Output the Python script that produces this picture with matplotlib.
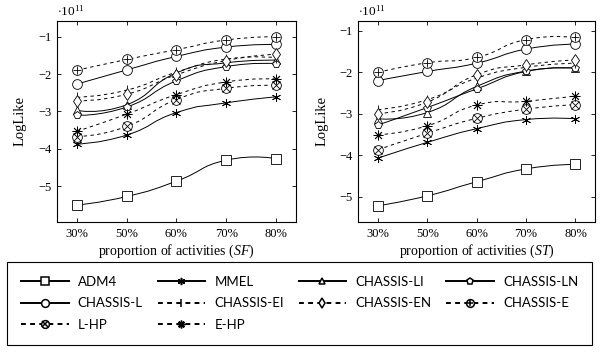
import matplotlib
matplotlib.use("Agg")
import matplotlib.pyplot as plt
from matplotlib.path import Path
from matplotlib.patches import PathPatch
from matplotlib.lines import Line2D

plt.rcParams['font.family'] = ['Liberation Serif', 'DejaVu Serif']
plt.rcParams['mathtext.fontset'] = 'custom'
plt.rcParams['mathtext.rm'] = 'Liberation Serif'
plt.rcParams['mathtext.it'] = 'Liberation Serif:italic'

# x categories
props = ['30%', '50%', '60%', '70%', '80%']

# LogLike values (x 1e11), SF dataset
adm4_sf = [-5.50, -5.27, -4.86, -4.30, -4.26]
mmel_sf = [-3.87, -3.63, -3.03, -2.77, -2.61]
li_sf = [-2.97, -2.82, -1.97, -1.70, -1.63]
ln_sf = [-3.10, -2.88, -2.18, -1.80, -1.72]
l_sf = [-2.27, -1.89, -1.53, -1.28, -1.21]
ei_sf = [-2.62, -2.43, -1.95, -1.60, -1.56]
en_sf = [-2.72, -2.54, -2.02, -1.64, -1.47]
e_sf = [-1.90, -1.61, -1.35, -1.09, -1.00]
lhp_sf = [-3.67, -3.40, -2.68, -2.38, -2.30]
ehp_sf = [-3.53, -3.07, -2.55, -2.21, -2.13]

# ST dataset
adm4_st = [-5.22, -4.98, -4.64, -4.33, -4.22]
mmel_st = [-4.07, -3.69, -3.36, -3.14, -3.12]
li_st = [-3.12, -2.97, -2.34, -1.97, -1.90]
ln_st = [-3.27, -2.85, -2.40, -1.98, -1.90]
l_st = [-2.20, -1.98, -1.78, -1.44, -1.32]
ei_st = [-2.90, -2.66, -2.14, -1.88, -1.78]
en_st = [-3.00, -2.72, -2.06, -1.82, -1.70]
e_st = [-2.00, -1.77, -1.64, -1.21, -1.16]
lhp_st = [-3.87, -3.47, -3.11, -2.89, -2.78]
ehp_st = [-3.51, -3.29, -2.79, -2.70, -2.57]

names = ['ADM4', 'MMEL', 'CHASSIS-LI', 'CHASSIS-LN', 'CHASSIS-L',
         'CHASSIS-EI', 'CHASSIS-EN', 'CHASSIS-E', 'L-HP', 'E-HP']
sf_data = [adm4_sf, mmel_sf, li_sf, ln_sf, l_sf, ei_sf, en_sf, e_sf, lhp_sf, ehp_sf]
st_data = [adm4_st, mmel_st, li_st, ln_st, l_st, ei_st, en_st, e_st, lhp_st, ehp_st]

# style per series: (linestyle, marker, size, overlay marker)
styles = [
    ('-', 's', 7, None),
    ('-', (6, 2, 0), 6.5, None),
    ('-', '^', 5.5, None),
    ('-', 'p', 6, None),
    ('-', 'o', 7, None),
    ('--', '|', 7.5, None),
    ('--', 'd', 6, None),
    ('--', 'o', 7, '+'),
    ('--', 'o', 7, 'x'),
    ('--', (8, 2, 0), 7, None),
]


def smooth_path(xs, ys, t=0.2775):
    # tikz-like smooth curve through the points
    pts = list(zip(xs, ys))
    verts = [pts[0]]
    codes = [Path.MOVETO]
    n = len(pts)
    for i in range(n - 1):
        p0 = pts[i]
        p1 = pts[i + 1]
        if i == 0:
            c1 = p0
        else:
            pm = pts[i - 1]
            c1 = (p0[0] + t * (p1[0] - pm[0]), p0[1] + t * (p1[1] - pm[1]))
        if i + 2 < n:
            p2 = pts[i + 2]
            c2 = (p1[0] - t * (p2[0] - p0[0]), p1[1] - t * (p2[1] - p0[1]))
        else:
            c2 = p1
        verts += [c1, c2, p1]
        codes += [Path.CURVE4] * 3
    return Path(verts, codes)


def draw(ax, data, xlabel_tag, ylim):
    xs = list(range(len(props)))
    for vals, (ls, mk, ms, over) in zip(data, styles):
        patch = PathPatch(smooth_path(xs, vals), facecolor='none', edgecolor='black',
                          lw=0.7, linestyle=(0, (3.5, 3.5)) if ls == '--' else '-', zorder=2)
        ax.add_patch(patch)
        ax.plot(xs, vals, ls='none', marker=mk, ms=ms, mfc='white', mec='black',
                mew=0.6, zorder=3)
        if over:
            ax.plot(xs, vals, ls='none', marker=over, ms=ms * 0.75, mec='black',
                    mew=0.6, zorder=4)
    ax.set_xticks(xs)
    ax.set_xticklabels(props)
    ax.set_xlim(-0.4, 4.4)
    ax.set_ylim(*ylim)
    ax.set_yticks([-5, -4, -3, -2, -1])
    ax.tick_params(direction='in', top=True, right=True, length=3, width=0.6,
                   labelsize=9, pad=4)
    for s in ax.spines.values():
        s.set_linewidth(0.8)
    ax.set_ylabel('LogLike', fontsize=10.5, labelpad=8)
    ax.set_xlabel('proportion of activities ($\\mathit{' + xlabel_tag + '}$)',
                  fontsize=10, labelpad=2)
    ax.text(0.0, 1.01, r'$\cdot 10^{11}$', transform=ax.transAxes, fontsize=9.5,
            ha='left', va='bottom')


fig = plt.figure(figsize=(6, 3.54), dpi=100)
ax1 = fig.add_axes([0.095, 0.373, 0.398, 0.568])
ax2 = fig.add_axes([0.597, 0.373, 0.395, 0.568])
draw(ax1, sf_data, 'SF', (-5.95, -0.58))
draw(ax2, st_data, 'ST', (-5.61, -0.76))

# legend handles (thicker lines like the reference)
handles = []
for (ls, mk, ms, over) in styles:
    h = Line2D([], [], color='black', lw=1.4, ls='-' if ls == '-' else (0, (2.5, 2.2)),
               marker=mk, ms=ms * 0.8, mfc='white', mec='black', mew=1.1)
    if over:
        h2 = Line2D([], [], ls='none', marker=over, ms=ms * 0.6, mec='black', mew=1.1)
        h = (h, h2)
    handles.append(h)

order = [0, 4, 8, 1, 5, 9, 2, 6, 3, 7]
leg = fig.legend([handles[i] for i in order], [names[i] for i in order], ncol=4,
                 loc='upper left', bbox_to_anchor=(0.012, 0.02, 0.975, 0.24),
                 mode='expand', frameon=True, fancybox=False, edgecolor='black',
                 framealpha=1, handlelength=3.6, handletextpad=0.7, columnspacing=0.6,
                 borderaxespad=0, labelspacing=0.72, borderpad=1.05,
                 prop={'family': ['Lato', 'DejaVu Sans'], 'size': 9.5})
leg.get_frame().set_linewidth(0.8)

fig.savefig('out.png', dpi=100)
